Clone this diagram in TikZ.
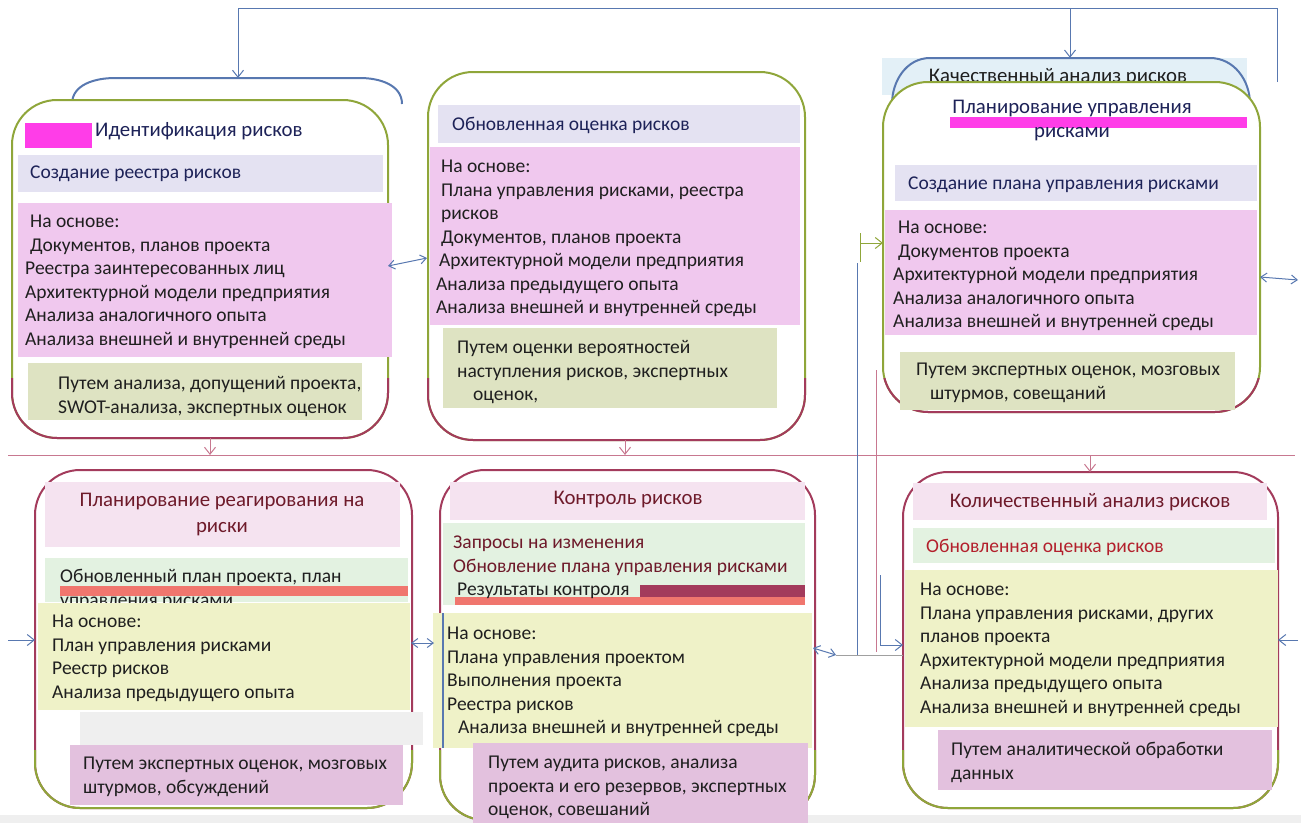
\documentclass[tikz,border=0pt]{standalone}
\usepackage{fontspec}
\setmainfont{Carlito}
\usetikzlibrary{arrows.meta}
\definecolor{lav}{HTML}{E4E2F2}
\definecolor{pinkb}{HTML}{F0C8EE}
\definecolor{tanb}{HTML}{DEE3C2}
\definecolor{ttlpink}{HTML}{F5E3F0}
\definecolor{grn}{HTML}{E3F2E1}
\definecolor{yel}{HTML}{EFF2C8}
\definecolor{purp}{HTML}{E3C1DE}
\definecolor{mag}{HTML}{FF3DE8}
\definecolor{olg}{HTML}{8FA63A}
\definecolor{olr}{HTML}{A33B5C}
\definecolor{lblue}{HTML}{5878B0}
\definecolor{ink}{HTML}{1F1F1F}
\definecolor{navy}{HTML}{1D2258}
\definecolor{dred}{HTML}{6E1A2A}
\definecolor{rtext}{HTML}{B3202C}
\definecolor{qblue}{HTML}{E3F0F7}
\definecolor{salmon}{HTML}{F0766E}
\definecolor{gry}{HTML}{EFEFEF}
\definecolor{pkl}{HTML}{C87890}
\definecolor{gline}{HTML}{A0A0A0}
\tikzset{
  panel/.style={draw, line width=2pt, fill=white, rounded corners=45pt, inner sep=0pt, outer sep=0pt},
  txt/.style={font=\fontsize{19.5}{23.5}\selectfont, inner sep=0pt, anchor=north west, align=left, text=ink},
  ttl/.style={txt, font=\fontsize{20.8}{25}\selectfont},
  ctxt/.style={ttl, anchor=north, align=center},
  arr/.style={-{Straight Barb[length=7pt,width=11pt]}},
  darr/.style={{Straight Barb[length=6pt,width=9pt]}-{Straight Barb[length=6pt,width=9pt]}},
  bl/.style={draw=lblue, line width=1pt},
  pk/.style={draw=pkl, line width=1pt},
  gr/.style={draw=olg, line width=1pt}
}
\begin{document}
\begin{tikzpicture}[x=1pt,y=-1pt]
\useasboundingbox (0,0) rectangle (1301,823);
\fill[gry] (0,815) rectangle (1301,823);
% ---- background shapes behind panels
\node[fill=qblue, minimum width=365pt, minimum height=37pt, inner sep=0pt] (qbg) at (1064.5,76.5) {};
\draw[lblue, line width=2pt] (892,104) to[out=90,in=180] (930,58) -- (1210,58) to[out=0,in=90] (1250,104);
\node[ctxt, text=ink] (q) at (1058,65) {\strut Качественный анализ рисков};
\coordinate (p1back) at (238,78);
\draw[lblue, line width=2pt] (72,104) to[out=90,in=180] (115,78) -- (360,78) to[out=0,in=90] (402,104);
% ---- panels
\node[panel, draw=olg, minimum width=376pt, minimum height=338pt] (p1) at (200,269) {};
\node[panel, draw=olg, minimum width=377pt, minimum height=368pt] (p2) at (616.5,256) {};
\node[panel, draw=olg, minimum width=377pt, minimum height=330pt] (p3) at (1071.5,247) {};
\node[panel, draw=olr, minimum width=377pt, minimum height=338pt] (p4) at (223.5,639) {};
\node[panel, draw=olr, minimum width=375pt, minimum height=350pt] (p5) at (627.5,645) {};
\node[panel, draw=olr, minimum width=375pt, minimum height=336pt] (p6) at (1090.5,640) {};
\begin{scope}\clip (0,378) rectangle (1301,450);
  \draw[olr, line width=2pt, rounded corners=45pt] (p1.south west) rectangle (p1.north east);
  \draw[olr, line width=2pt, rounded corners=45pt] (p2.south west) rectangle (p2.north east);
  \draw[olr, line width=2pt, rounded corners=45pt] (p3.south west) rectangle (p3.north east);
\end{scope}
\begin{scope}\clip (0,750) rectangle (1301,823);
  \draw[olg, line width=2pt, rounded corners=45pt] (p4.south west) rectangle (p4.north east);
  \draw[olg, line width=2pt, rounded corners=45pt] (p5.south west) rectangle (p5.north east);
  \draw[olg, line width=2pt, rounded corners=45pt] (p6.south west) rectangle (p6.north east);
\end{scope}
% ---- panel 1
\fill[mag] (25,123) rectangle (92,148);
\fill[lav] (18,155) rectangle (383,192);
\fill[pinkb] (18,203) rectangle (392,357);
\fill[tanb] (28,363) rectangle (362,420);
\node[ttl, text=navy] (p1t) at (95,119) {\strut Идентификация рисков};
\node[txt, text=navy] (p1a) at (30,162) {\strut Создание реестра рисков};
\node[txt] (p1b) at (25,211) {\strut\hspace*{5pt}На основе:\\\hspace*{5pt}Документов, планов проекта\\Реестра заинтересованных лиц\\Архитектурной модели предприятия\\Анализа аналогичного опыта\\Анализа внешней и внутренней среды};
\node[txt] (p1c) at (58,373) {\strut Путем анализа, допущений проекта,\\SWOT-анализа, экспертных оценок};
% ---- panel 2
\fill[lav] (438,105) rectangle (800,143);
\fill[pinkb] (430,147) rectangle (800,325);
\fill[tanb] (443,328) rectangle (777,408);
\node[txt, text=navy] (p2a) at (452,114) {\strut Обновленная оценка рисков};
\node[txt] (p2b) at (436,156) {\strut\hspace*{5pt}На основе:\\\hspace*{5pt}Плана управления рисками, реестра\\\hspace*{5pt}рисков\\\hspace*{5pt}Документов, планов проекта\\\hspace*{3pt}Архитектурной модели предприятия\\Анализа предыдущего опыта\\Анализа внешней и внутренней среды};
\node[txt] (p2c) at (457,337) {\strut Путем оценки вероятностей\\наступления рисков, экспертных\\\hspace*{16pt}оценок,};
% ---- panel 3
\fill[mag] (950,117) rectangle (1247,128);
\fill[lav] (895,165) rectangle (1257,201);
\fill[pinkb] (885,210) rectangle (1257,335);
\fill[tanb] (900,352) rectangle (1235,410);
\node[ctxt, text=navy, font=\fontsize{20.8}{24}\selectfont] (p3t) at (1072,96) {\strut Планирование управления\\рисками};
\node[txt, text=navy] (p3a) at (908,173) {\strut Создание плана управления рисками};
\node[txt] (p3b) at (893,217) {\strut\hspace*{5pt}На основе:\\\hspace*{5pt}Документов проекта\\Архитектурной модели предприятия\\Анализа аналогичного опыта\\Анализа внешней и внутренней среды};
\node[txt] (p3c) at (916,359) {\strut Путем экспертных оценок, мозговых\\\hspace*{14pt}штурмов, совещаний};
% ---- panel 4
\fill[ttlpink] (45,482) rectangle (400,547);
\fill[grn] (45,558) rectangle (408,602);
\fill[salmon] (60,586) rectangle (408,596);
\node[ctxt, text=dred, font=\fontsize{20.8}{26}\selectfont] (p4t) at (222,488) {\strut Планирование реагирования на\\риски};
\node[txt] (p4a) at (60,566) {\strut Обновленный план проекта, план\\управления рисками};
\fill[yel] (38,603) rectangle (410,710);
\fill[gry] (80,712) rectangle (423,745);
\fill[purp] (70,745) rectangle (403,805);
\node[txt] (p4b) at (52,611) {\strut На основе:\\План управления рисками\\Реестр рисков\\Анализа предыдущего опыта};
\node[txt] (p4c) at (83,753) {\strut Путем экспертных оценок, мозговых\\штурмов, обсуждений};
% ---- panel 5
\fill[ttlpink] (450,482) rectangle (805,520);
\fill[grn] (443,523) rectangle (805,605);
\fill[salmon] (455,597) rectangle (805,605);
\fill[olr] (640,585) rectangle (805,597);
\node[ctxt, text=dred] (p5t) at (628,487) {\strut Контроль рисков};
\node[txt, text=dred] (p5a) at (453,532) {\strut Запросы на изменения\\Обновление плана управления рисками\\\hspace*{4pt}{\color{ink}Результаты контроля}};
\fill[yel] (433,613) rectangle (812,748);
\draw[lblue, line width=2pt] (443,613) -- (443,748);
\fill[purp] (473,743) rectangle (808,823);
\node[txt] (p5b) at (447,623) {\strut На основе:\\Плана управления проектом\\Выполнения проекта\\Реестра рисков\\\hspace*{11pt}Анализа внешней и внутренней среды};
\node[txt] (p5c) at (488,752) {\strut Путем аудита рисков, анализа\\проекта и его резервов, экспертных\\оценок, совешаний};
% ---- panel 6
\fill[ttlpink] (913,483) rectangle (1267,520);
\fill[grn] (913,528) rectangle (1275,563);
\fill[yel] (905,570) rectangle (1278,727);
\fill[purp] (938,730) rectangle (1272,790);
\node[ctxt, text=dred] (p6t) at (1090,490) {\strut Количественный анализ рисков};
\node[txt, text=rtext] (p6a) at (926,536) {\strut Обновленная оценка рисков};
\node[txt] (p6b) at (920,579) {\strut На основе:\\Плана управления рисками, других\\планов проекта\\Архитектурной модели предприятия\\Анализа предыдущего опыта\\Анализа внешней и внутренней среды};
\node[txt] (p6c) at (951,739) {\strut Путем аналитической обработки\\данных};
% ---- connectors
\coordinate (c1) at (238,8);
\coordinate (c2) at (1277,8);
\coordinate (c3) at (1277,82);
\coordinate (c4) at (1070,8);
\draw[bl, arr] (c3) -- (c2) -- (c1) -- (p1back);
\draw[bl, arr] (c4) -- (c4 |- qbg.north);
\coordinate (h1) at (8,455);
\coordinate (h2) at (1090,455);
\coordinate (h3) at (1295,455);
\draw[pk] (h1) -- (h3);
\coordinate (d1) at (210,455);
\coordinate (d2) at (625,455);
\draw[pk, arr] (p1.south -| d1) -- (d1);
\draw[pk, arr] (p2.south -| d2) -- (d2);
\draw[pk, arr] (h2) -- (h2 |- p6.north);
\coordinate (e12a) at (388,266);
\coordinate (e12b) at (427,258);
\draw[bl, darr] (e12a) -- (e12b);
\coordinate (g3a) at (860,243);
\coordinate (g3b) at (860,233);
\coordinate (g3c) at (860,262);
\draw[gr, arr] (g3a) -- (g3a -| p3.west);
\draw[gr] (g3b) -- (g3c);
\coordinate (r3) at (1298,280);
\draw[bl, darr] (p3.east |- 0,277) -- (r3);
\coordinate (l4) at (8,640);
\draw[bl, arr] (l4) -- (l4 -| p4.west);
\coordinate (m45a) at (411,643);
\coordinate (m45b) at (434,643);
\draw[bl, darr] (m45a) -- (m45b);
\coordinate (m56a) at (813,648);
\coordinate (m56b) at (836,655);
\coordinate (v1t) at (857,263);
\coordinate (v1b) at (857,655);
\coordinate (v2t) at (876,370);
\coordinate (v2b) at (876,652);
\coordinate (v3t) at (880,575);
\coordinate (v3b) at (880,645);
\draw[bl, darr] (m56a) -- (m56b);
\draw[draw=gline, line width=1pt] (m56b) -- (m56b -| p6.west);
\draw[bl] (v1t) -- (v1b);
\draw[pk] (v2t) -- (v2b);
\draw[bl, arr] (v3t) -- (v3b) -- (v3b -| p6.west);
\coordinate (r6) at (1298,640);
\draw[bl, arr] (r6) -- (r6 -| p6.east);
\end{tikzpicture}
\end{document}
